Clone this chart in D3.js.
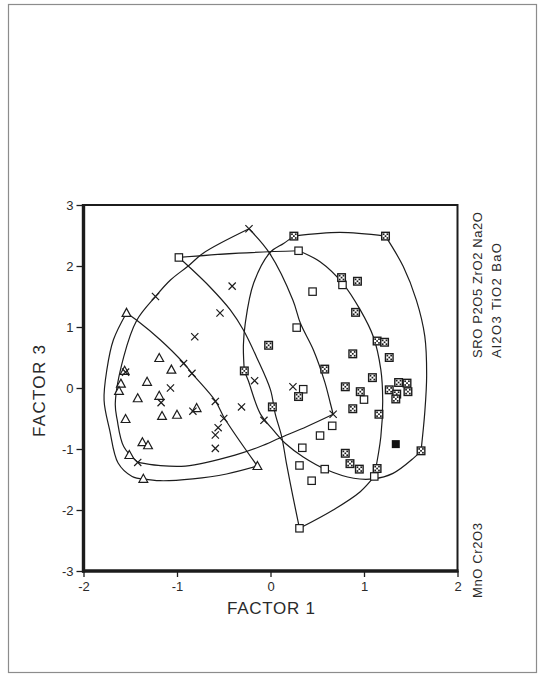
<!DOCTYPE html>
<html><head><meta charset="utf-8">
<script src="https://cdn.jsdelivr.net/npm/d3@7"></script>
<style>body{margin:0;background:#fff}svg{display:block}</style>
</head><body>
<svg id="c" width="539" height="676"></svg>
<script>
// ---- data ----
const xDomain = [-2, 2];
const yDomain = [-3, 3];
const xTicks = [-2, -1, 0, 1, 2];
const yTicks = [-3, -2, -1, 0, 1, 2, 3];
const xTitle = "FACTOR 1";
const yTitle = "FACTOR 3";
const rightLabelsTop = ["SRO P2O5 ZrO2 Na2O", "Al2O3 TiO2 BaO"];
const rightLabelBottom = "MnO Cr2O3";

const triangles = [
  [-1.54, 1.23], [-1.19, 0.49], [-1.06, 0.30], [-1.56, 0.28], [-1.32, 0.10],
  [-1.60, 0.07], [-1.62, -0.05], [-1.42, -0.17], [-1.19, -0.13], [-1.16, -0.46],
  [-1.00, -0.44], [-0.79, -0.33], [-1.55, -0.51], [-1.37, -0.89], [-1.31, -0.94],
  [-1.51, -1.10], [-1.36, -1.49], [-0.14, -1.28]
];
const crosses = [
  [-0.23, 2.61], [-1.23, 1.50], [-0.41, 1.67], [-0.54, 1.23], [-0.81, 0.84],
  [-0.93, 0.40], [-0.84, 0.24], [-1.07, 0.00], [-0.17, 0.12], [-0.59, -0.22],
  [-1.17, -0.24], [-0.31, -0.31], [-1.55, 0.26], [-0.83, -0.38], [-0.50, -0.50],
  [-0.56, -0.65], [-0.59, -0.77], [-0.59, -0.99], [-1.42, -1.22], [-0.07, -0.53],
  [0.67, -0.43], [0.24, 0.02]
];
const openSquares = [
  [-0.98, 2.14], [0.30, 2.25], [0.45, 1.58], [0.77, 1.69], [0.28, 0.99],
  [0.35, -0.02], [1.00, -0.19], [0.66, -0.62], [0.53, -0.78], [0.34, -0.98],
  [0.31, -1.27], [0.58, -1.33], [0.44, -1.52], [1.11, -1.45], [0.31, -2.30]
];
const dottedSquares = [
  [0.25, 2.49], [1.23, 2.49], [0.76, 1.81], [0.93, 1.75], [0.91, 1.24],
  [1.14, 0.77], [1.22, 0.75], [0.88, 0.56], [1.27, 0.50], [-0.02, 0.70],
  [-0.28, 0.28], [0.58, 0.31], [1.09, 0.17], [0.80, 0.02], [0.96, -0.06],
  [1.37, 0.09], [1.46, 0.08], [1.47, -0.06], [1.27, -0.03], [1.35, -0.10],
  [1.34, -0.18], [0.30, -0.14], [0.02, -0.31], [0.88, -0.34], [1.16, -0.43],
  [0.80, -1.07], [0.85, -1.24], [0.95, -1.33], [1.14, -1.32], [1.61, -1.03]
];
const filledSquares = [[1.34, -0.92]];

// envelope curves
const triangleCurves = [
  [[-1.54, 1.23], [-1.68, 0.79], [-1.75, 0.30], [-1.78, -0.20], [-1.72, -0.69], [-1.63, -1.23], [-1.48, -1.45], [-1.36, -1.49]],
  [[-1.36, -1.49], [-1.18, -1.52], [-0.83, -1.49], [-0.47, -1.41], [-0.14, -1.28]],
  [[-0.14, -1.28], [-0.49, -0.50], [-0.59, -0.21], [-0.84, 0.24], [-0.93, 0.41], [-1.18, 0.79], [-1.43, 1.11], [-1.54, 1.23]]
];
const crossCurves = [
  [[-0.23, 2.61], [-0.72, 2.21], [-0.88, 2.00], [-1.07, 1.77], [-1.23, 1.50], [-1.43, 1.11], [-1.57, 0.51], [-1.66, -0.25], [-1.64, -0.52], [-1.57, -0.96], [-1.42, -1.22]],
  [[-1.42, -1.22], [-1.20, -1.27], [-0.91, -1.28], [-0.38, -1.10], [-0.11, -0.96], [0.10, -0.82], [0.39, -0.63], [0.67, -0.43]],
  [[0.67, -0.43], [0.64, -0.25], [0.58, 0.10], [0.46, 0.62], [0.32, 1.06], [0.24, 1.44], [-0.01, 2.21], [-0.23, 2.61]]
];
const openSquareCurves = [
  [[-0.98, 2.14], [-0.34, 2.21], [0.30, 2.25]],
  [[0.30, 2.25], [0.53, 2.07], [0.77, 1.72], [0.96, 1.28], [1.10, 0.84], [1.18, 0.30], [1.20, -0.20], [1.18, -0.80], [1.11, -1.45]],
  [[1.11, -1.45], [0.96, -1.70], [0.67, -2.00], [0.31, -2.30]],
  [[0.31, -2.30], [0.24, -1.78], [0.17, -1.23], [0.12, -0.80], [0.05, -0.42], [0.00, -0.03], [-0.15, 0.51], [-0.29, 0.95], [-0.43, 1.28], [-0.65, 1.66], [-0.88, 2.00], [-0.98, 2.14]]
];
const dottedSquareCurves = [
  [[0.25, 2.49], [0.74, 2.55], [1.23, 2.49]],
  [[1.23, 2.49], [1.42, 1.99], [1.56, 1.44], [1.65, 0.85], [1.67, 0.20], [1.65, -0.40], [1.61, -1.03]],
  [[1.61, -1.03], [1.53, -1.15], [1.31, -1.40], [1.10, -1.49], [0.89, -1.48], [0.60, -1.34], [0.35, -1.13], [0.16, -0.91], [0.03, -0.69], [-0.11, -0.42], [-0.24, 0.13], [-0.28, 0.28]],
  [[-0.28, 0.28], [-0.29, 0.70], [-0.27, 1.06], [-0.18, 1.72], [0.00, 2.23], [0.14, 2.37], [0.25, 2.49]]
];

// ---- drawing ----
const W = 539, H = 676;
const ink = "#1c1c1c";
const font = "'Liberation Sans', Arial, sans-serif";
const svg = d3.select("#c");
svg.append("rect").attr("width", W).attr("height", H).attr("fill", "#fff");

// page frame
svg.append("rect").attr("x", 8.5).attr("y", 4.5).attr("width", 528).attr("height", 668)
  .attr("fill", "none").attr("stroke", "#8c8c8c").attr("stroke-width", 1.2);

const x = d3.scaleLinear().domain(xDomain).range([83.5, 457.5]);
const y = d3.scaleLinear().domain(yDomain).range([571, 205]);

// axes
const fmt = d => String(d);
const gx = svg.append("g").attr("transform", `translate(0,${y(-3)})`)
  .call(d3.axisBottom(x).tickValues(xTicks).tickFormat(fmt).tickSize(6).tickPadding(5));
const gy = svg.append("g").attr("transform", `translate(${x(-2)},0)`)
  .call(d3.axisLeft(y).tickValues(yTicks).tickFormat(fmt).tickSize(7).tickPadding(3));
[gx, gy].forEach(g => {
  g.select(".domain").remove();
  g.selectAll(".tick line").attr("stroke", ink).attr("stroke-width", 1.3);
  g.selectAll(".tick text").attr("fill", "#2a2a2a").style("font-family", font).style("font-size", "13px");
});

// line curves
const line = d3.line().x(d => x(d[0])).y(d => y(d[1])).curve(d3.curveCatmullRom.alpha(0.5));
const allCurves = [].concat(triangleCurves, crossCurves, openSquareCurves, dottedSquareCurves);
svg.append("g").selectAll("path").data(allCurves).join("path")
  .attr("d", line).attr("fill", "none").attr("stroke", ink).attr("stroke-width", 1.2);

// plot frame
const fx0 = x(-2), fx1 = x(2), fy0 = y(3), fy1 = y(-3);
svg.append("rect").attr("x", fx0).attr("y", fy0).attr("width", fx1 - fx0).attr("height", fy1 - fy0)
  .attr("fill", "none").attr("stroke", ink).attr("stroke-width", 2);
svg.append("line").attr("x1", fx0).attr("x2", fx0).attr("y1", fy0 - 1).attr("y2", fy1 + 1.5)
  .attr("stroke", ink).attr("stroke-width", 3.4);
svg.append("line").attr("x1", fx0 - 1.5).attr("x2", fx1 + 1).attr("y1", fy1).attr("y2", fy1)
  .attr("stroke", ink).attr("stroke-width", 3.4);

// markers
const mk = svg.append("g");
mk.selectAll(".tri").data(triangles).join("path").attr("class", "tri")
  .attr("transform", d => `translate(${x(d[0])},${y(d[1])})`)
  .attr("d", "M0,-4.6L4.4,3.4L-4.4,3.4Z")
  .attr("fill", "#fff").attr("stroke", ink).attr("stroke-width", 1.2);
mk.selectAll(".osq").data(openSquares).join("rect").attr("class", "osq")
  .attr("x", d => x(d[0]) - 3.7).attr("y", d => y(d[1]) - 3.7)
  .attr("width", 7.4).attr("height", 7.4)
  .attr("fill", "#fff").attr("stroke", ink).attr("stroke-width", 1.2);
mk.selectAll(".crs").data(crosses).join("path").attr("class", "crs")
  .attr("transform", d => `translate(${x(d[0])},${y(d[1])})`)
  .attr("d", "M-3.6,-3.6L3.6,3.6M-3.6,3.6L3.6,-3.6")
  .attr("fill", "none").attr("stroke", ink).attr("stroke-width", 1.2);
const dsq = mk.selectAll(".dsq").data(dottedSquares).join("g").attr("class", "dsq")
  .attr("transform", d => `translate(${x(d[0])},${y(d[1])})`);
dsq.append("rect").attr("x", -3.8).attr("y", -3.8).attr("width", 7.6).attr("height", 7.6)
  .attr("fill", "#fff").attr("stroke", ink).attr("stroke-width", 1.4);
const dots = [[-1.9, -1.9], [1.9, -1.9], [-1.9, 1.9], [1.9, 1.9], [0, 0]];
dsq.selectAll("rect.dot").data(dots).join("rect").attr("class", "dot")
  .attr("x", d => d[0] - 0.85).attr("y", d => d[1] - 0.85)
  .attr("width", 1.7).attr("height", 1.7).attr("fill", ink);
mk.selectAll(".fsq").data(filledSquares).join("rect").attr("class", "fsq")
  .attr("x", d => x(d[0]) - 4).attr("y", d => y(d[1]) - 4)
  .attr("width", 8).attr("height", 8).attr("fill", "#111");

// titles
svg.append("text").attr("x", 271).attr("y", 608).attr("text-anchor", "middle")
  .attr("dominant-baseline", "central").attr("textLength", 88).attr("lengthAdjust", "spacing")
  .style("font-family", font).style("font-size", "17px").attr("fill", "#2a2a2a").text(xTitle);
svg.append("text").attr("transform", "translate(39,391) rotate(-90)").attr("text-anchor", "middle")
  .attr("dominant-baseline", "central").attr("textLength", 92).attr("lengthAdjust", "spacing")
  .style("font-family", font).style("font-size", "17px").attr("fill", "#2a2a2a").text(yTitle);

// right side labels
const rl = [
  { t: rightLabelsTop[0], cx: 477, y0: 358, len: 146 },
  { t: rightLabelsTop[1], cx: 496, y0: 358, len: 115 },
  { t: rightLabelBottom, cx: 477, y0: 598, len: 75 }
];
svg.append("g").selectAll("text").data(rl).join("text")
  .attr("transform", d => `translate(${d.cx},${d.y0}) rotate(-90)`)
  .attr("text-anchor", "start").attr("dominant-baseline", "central")
  .attr("textLength", d => d.len).attr("lengthAdjust", "spacing")
  .style("font-family", font).style("font-size", "13px").attr("fill", "#2a2a2a")
  .text(d => d.t);
</script>
</body></html>
